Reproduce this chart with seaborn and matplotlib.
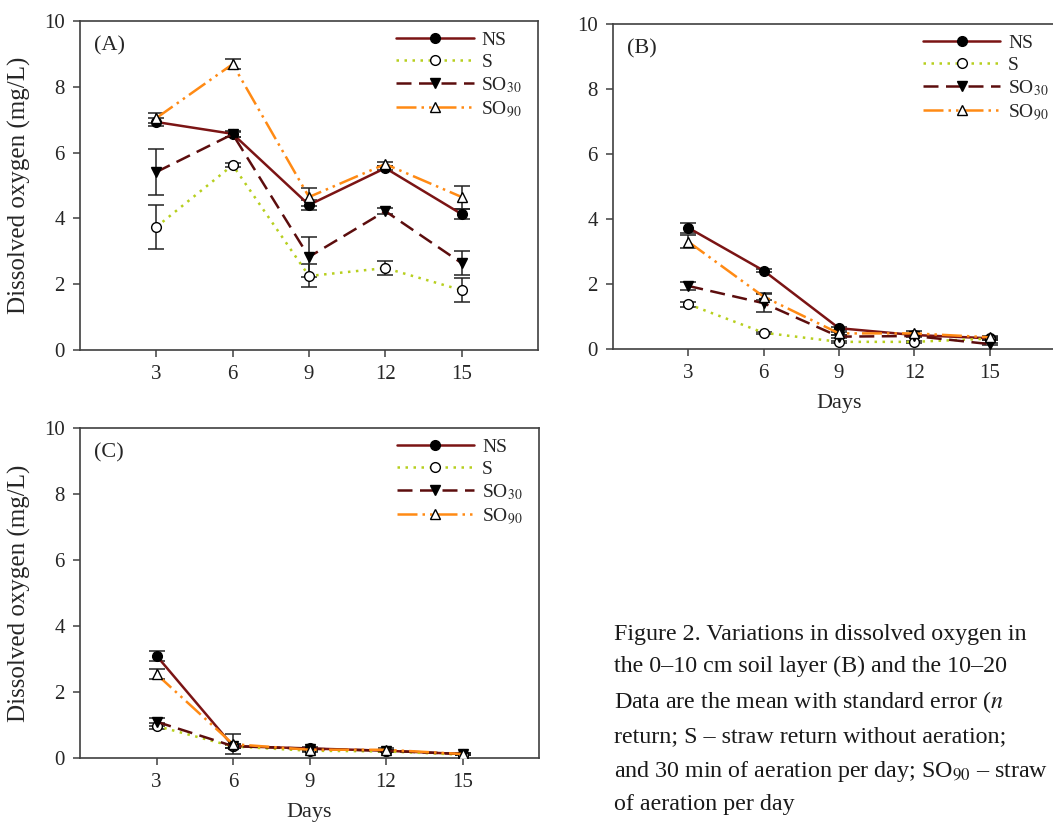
import pandas as pd
import seaborn as sns
import matplotlib.pyplot as plt

days = [3, 6, 9, 12, 15]
treatments = ['NS', 'S', 'SO30', 'SO90']
legend_labels = ['NS', 'S', 'SO$_{30}$', 'SO$_{90}$']

# panel A
a_mean = {
    'NS':   [6.93, 6.57, 4.41, 5.53, 4.13],
    'S':    [3.74, 5.62, 2.25, 2.49, 1.82],
    'SO30': [5.41, 6.56, 2.83, 4.22, 2.64],
    'SO90': [7.05, 8.69, 4.65, 5.65, 4.65],
}
a_se = {
    'NS':   [0.12, 0.10, 0.15, 0.06, 0.15],
    'S':    [0.68, 0.05, 0.35, 0.22, 0.37],
    'SO30': [0.69, 0.08, 0.60, 0.10, 0.36],
    'SO90': [0.15, 0.15, 0.27, 0.06, 0.35],
}
# panel B
b_mean = {
    'NS':   [3.73, 2.41, 0.64, 0.43, 0.33],
    'S':    [1.38, 0.50, 0.22, 0.22, 0.32],
    'SO30': [1.94, 1.41, 0.38, 0.40, 0.15],
    'SO90': [3.30, 1.61, 0.48, 0.48, 0.36],
}
b_se = {
    'NS':   [0.15, 0.05, 0.04, 0.04, 0.04],
    'S':    [0.08, 0.03, 0.03, 0.03, 0.03],
    'SO30': [0.12, 0.27, 0.04, 0.04, 0.03],
    'SO90': [0.20, 0.10, 0.04, 0.06, 0.04],
}
# panel C
c_mean = {
    'NS':   [3.10, 0.36, 0.29, 0.22, 0.12],
    'S':    [0.97, 0.35, 0.22, 0.20, 0.10],
    'SO30': [1.10, 0.36, 0.28, 0.22, 0.12],
    'SO90': [2.54, 0.42, 0.25, 0.25, 0.12],
}
c_se = {
    'NS':   [0.15, 0.05, 0.03, 0.03, 0.02],
    'S':    [0.10, 0.05, 0.03, 0.03, 0.02],
    'SO30': [0.12, 0.05, 0.03, 0.03, 0.02],
    'SO90': [0.15, 0.30, 0.03, 0.05, 0.02],
}

colors = {'NS': '#7b1414', 'S': '#b7cf1e', 'SO30': '#5c0d0d', 'SO90': '#ff8a14'}
styles = {'NS': '-', 'S': (0, (1, 2.2)), 'SO30': (0, (6, 3)), 'SO90': (0, (8, 2, 1, 2, 1, 2))}
markers = {'NS': 'o', 'S': 'o', 'SO30': 'v', 'SO90': '^'}
faces = {'NS': 'black', 'S': 'white', 'SO30': 'black', 'SO90': 'white'}

# caption as visible in the reference (the page crops it on the right)
caption_lines = [
    "Figure 2. Variations in dissolved oxygen in",
    "the 0\u201310 cm soil layer (B) and the 10\u201320",
    "Data are the mean with standard error ($\\it{n}$",
    "return; S \u2013 straw return without aeration;",
    "and 30 min of aeration per day; SO$_{90}$ \u2013 straw",
    "of aeration per day",
]

sns.set_theme(style='ticks')
plt.rcParams['font.family'] = ['Liberation Serif', 'DejaVu Serif']
plt.rcParams['mathtext.fontset'] = 'stix'
plt.rcParams['axes.edgecolor'] = '#404040'
plt.rcParams['axes.linewidth'] = 1.2

fig = plt.figure(figsize=(10.53, 8.26), dpi=100)
W, H = 1053, 826


def make_ax(left, top, right, bottom):
    return fig.add_axes([left / W, 1 - bottom / H, (right - left) / W, (bottom - top) / H])


ax_a = make_ax(80, 21, 538, 350)
ax_b = make_ax(613, 24, 1065, 349)
ax_c = make_ax(80, 428, 539, 758)


def draw_panel(ax, means, ses, tag, legend_x, ylabel, xlabel):
    rows = []
    for t in treatments:
        for d, m, s in zip(days, means[t], ses[t]):
            rows.append({'day': d, 'do': m, 'se': s, 'treatment': t})
    df = pd.DataFrame(rows)

    for t in treatments:
        sub = df[df['treatment'] == t]
        ax.errorbar(sub['day'], sub['do'], yerr=sub['se'], fmt='none',
                    ecolor='#222222', elinewidth=1.1, capsize=5.5, capthick=1.1, zorder=2)
    for t, lab in zip(treatments, legend_labels):
        sub = df[df['treatment'] == t]
        sns.lineplot(data=sub, x='day', y='do', ax=ax, color=colors[t],
                     linestyle=styles[t], linewidth=1.8, marker=markers[t],
                     markersize=7, markerfacecolor=faces[t],
                     markeredgecolor='black', markeredgewidth=1.0,
                     label=lab, zorder=3)

    ax.set_xlim(0, 18)
    ax.set_ylim(0, 10)
    ax.set_xticks(days)
    ax.set_yticks([0, 2, 4, 6, 8, 10])
    ax.tick_params(axis='both', direction='out', length=5, width=1.1,
                   color='#404040', labelsize=15, pad=6)
    ax.set_xlabel(xlabel, fontsize=16, labelpad=8)
    ax.set_ylabel(ylabel, fontsize=18, labelpad=9)
    ax.text(0.03, 0.925, tag, transform=ax.transAxes, fontsize=16, va='center')
    ax.legend(loc='upper left', bbox_to_anchor=(legend_x, 1.01), frameon=False,
              fontsize=14, handlelength=4.0, labelspacing=0.22,
              handletextpad=0.4, borderaxespad=0.3)


draw_panel(ax_a, a_mean, a_se, '(A)', 0.66, 'Dissolved oxygen (mg/L)', '')
draw_panel(ax_b, b_mean, b_se, '(B)', 0.655, '', 'Days')
draw_panel(ax_c, c_mean, c_se, '(C)', 0.66, 'Dissolved oxygen (mg/L)', 'Days')

fig.text(614 / W, 1 - 624 / H, "\n".join(caption_lines), fontsize=17.3,
         va='top', ha='left', linespacing=1.66, color='#1a1a1a')

fig.savefig('out.png', dpi=100)
